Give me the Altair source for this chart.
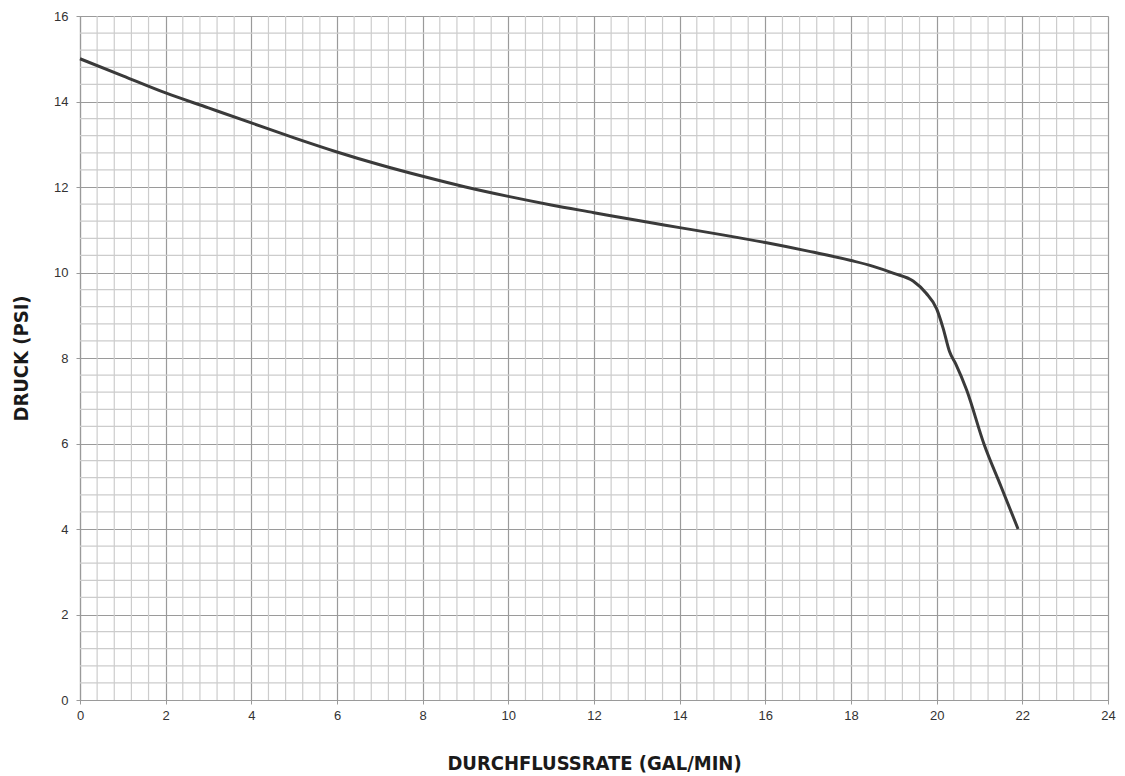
import altair as alt
import pandas as pd

# Pump curve
flow = [0, 1, 2, 3, 4, 5, 6, 7, 8, 9, 10, 11, 12, 13, 14, 15, 16, 17, 18,
        18.5, 19, 19.45, 19.75, 20.0, 20.15, 20.3, 20.45, 20.7, 21.1, 21.5, 21.9]
pressure = [15.0, 14.6, 14.2, 13.85, 13.5, 13.15, 12.82, 12.52, 12.25, 12.0,
            11.78, 11.58, 11.4, 11.22, 11.05, 10.88, 10.7, 10.5, 10.28,
            10.15, 9.98, 9.8, 9.52, 9.15, 8.7, 8.15, 7.85, 7.25, 6.0, 5.0, 4.0]

x_major = [0, 2, 4, 6, 8, 10, 12, 14, 16, 18, 20, 22, 24]
y_major = [0, 2, 4, 6, 8, 10, 12, 14, 16]
x_minor = [round(i * 0.4, 2) for i in range(61) if i % 5 != 0]
y_minor = [round(i * 0.4, 2) for i in range(41) if i % 5 != 0]

curve = pd.DataFrame({"flow": flow, "pressure": pressure})
xm = pd.DataFrame({"v": x_minor})
ym = pd.DataFrame({"v": y_minor})

title_font = "DejaVu Sans Condensed"
label_font = "Liberation Sans"

xscale = alt.Scale(domain=[0, 24], nice=False, zero=False)
yscale = alt.Scale(domain=[0, 16], nice=False, zero=False)

xaxis = alt.Axis(values=x_major, grid=True, gridColor="#9a9a9a", gridWidth=1.2,
                 domainColor="#9a9a9a", domainWidth=1.2, tickColor="#9a9a9a",
                 tickSize=4, labelFont=label_font, labelFontSize=13,
                 labelColor="#333333", labelPadding=5, labelFlush=False,
                 title="DURCHFLUSSRATE (GAL/MIN)", titleFont=title_font,
                 titleFontSize=20, titleFontWeight="bold", titleColor="#1a1a1a",
                 titlePadding=31)
yaxis = alt.Axis(values=y_major, grid=True, gridColor="#9a9a9a", gridWidth=1.2,
                 domainColor="#9a9a9a", domainWidth=1.2, tickColor="#9a9a9a",
                 tickSize=4, labelFont=label_font, labelFontSize=13,
                 labelColor="#333333", labelPadding=8, labelFlush=False,
                 title="DRUCK (PSI)", titleFont=title_font,
                 titleFontSize=20, titleFontWeight="bold", titleColor="#1a1a1a",
                 titlePadding=22)

vminor = alt.Chart(xm).mark_rule(color="#cccccc", strokeWidth=1.2).encode(
    x=alt.X("v:Q", scale=xscale, axis=xaxis))
hminor = alt.Chart(ym).mark_rule(color="#cccccc", strokeWidth=1.2).encode(
    y=alt.Y("v:Q", scale=yscale, axis=yaxis))

line = alt.Chart(curve).mark_line(color="#3a3a3a", strokeWidth=3,
                                  interpolate="monotone").encode(
    x=alt.X("flow:Q", scale=xscale, axis=xaxis),
    y=alt.Y("pressure:Q", scale=yscale, axis=yaxis))

chart = (vminor + hminor + line).properties(
    width=1028, height=684,
    autosize=alt.AutoSizeParams(type="none"),
    padding={"left": 72, "top": 8, "right": 9, "bottom": 76},
).configure_view(stroke=None).configure(background="white")

chart.save("out.html", embed_options={"renderer": "svg", "actions": False})
